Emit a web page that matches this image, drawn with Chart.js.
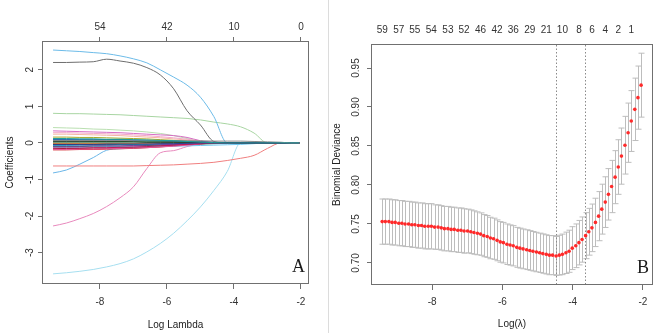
<!DOCTYPE html>
<html>
<head>
<meta charset="utf-8">
<title>LASSO coefficient paths and cross-validation</title>
<script src="https://cdn.jsdelivr.net/npm/chart.js@4.4.1/dist/chart.umd.min.js"></script>
<style>
  html, body { margin: 0; padding: 0; background: #fff; }
  #wrap { position: relative; width: 660px; height: 333px; overflow: hidden; }
  #panelA { position: absolute; left: 0; top: 0; }
  #panelB { position: absolute; left: 330px; top: 0; }
  #sep { position: absolute; left: 328px; top: 0; width: 1px; height: 333px; background: #dcdcdc; }
</style>
</head>
<body>
<div id="wrap">
  <canvas id="panelA" width="330" height="333"></canvas>
  <div id="sep"></div>
  <canvas id="panelB" width="330" height="333"></canvas>
</div>
<script>
// ---------- Panel A: coefficient paths ----------
const xA = [-9.4, -9.0, -8.6, -8.2, -7.8, -7.4, -7.0, -6.6, -6.2, -5.8, -5.4, -5.0, -4.6, -4.2, -3.8, -3.4, -3.0, -2.6, -2.3, -2.05];

// small coefficients bunched round zero
const coefK1  = [0.12, 0.12, 0.11, 0.11, 0.10, 0.10, 0.09, 0.08, 0.07, 0.06, 0.04, 0.02, 0.01, 0, 0, 0, 0, 0, 0, 0];
const coefK2  = [0.07, 0.07, 0.07, 0.07, 0.07, 0.07, 0.06, 0.06, 0.06, 0.06, 0.06, 0.06, 0.05, 0.05, 0.05, 0.04, 0.03, 0.02, 0, 0];
const coefK3  = [-0.04, -0.04, -0.04, -0.04, -0.03, -0.03, -0.03, -0.03, -0.02, -0.02, -0.01, 0, 0, 0, 0, 0, 0, 0, 0, 0];
const coefK4  = [0.03, 0.03, 0.03, 0.03, 0.03, 0.03, 0.03, 0.02, 0.02, 0.02, 0.02, 0.01, 0.01, 0.01, 0, 0, 0, 0, 0, 0];
const coefK5  = [-0.14, -0.14, -0.14, -0.13, -0.13, -0.12, -0.11, -0.10, -0.08, -0.06, -0.04, -0.02, 0, 0, 0, 0, 0, 0, 0, 0];
const coefK6  = [0.05, 0.05, 0.05, 0.04, 0.04, 0.04, 0.04, 0.03, 0.03, 0.02, 0.01, 0, 0, 0, 0, 0, 0, 0, 0, 0];
const coefK7  = [-0.09, -0.09, -0.09, -0.08, -0.08, -0.08, -0.07, -0.06, -0.05, -0.04, -0.03, -0.01, 0, 0, 0, 0, 0, 0, 0, 0];
const coefK8  = [0.09, 0.09, 0.09, 0.08, 0.08, 0.08, 0.07, 0.07, 0.06, 0.05, 0.04, 0.02, 0.01, 0, 0, 0, 0, 0, 0, 0];
const coefK9  = [-0.07, -0.07, -0.06, -0.06, -0.06, -0.05, -0.05, -0.04, -0.04, -0.03, -0.02, -0.01, 0, 0, 0, 0, 0, 0, 0, 0];
const coefK10 = [-0.18, -0.18, -0.17, -0.17, -0.16, -0.15, -0.14, -0.13, -0.11, -0.09, -0.06, -0.03, 0, 0, 0, 0, 0, 0, 0, 0];
const coefK11 = [0.16, 0.16, 0.15, 0.15, 0.14, 0.13, 0.12, 0.11, 0.09, 0.07, 0.05, 0.02, 0, 0, 0, 0, 0, 0, 0, 0];
const coefK12 = [-0.02, -0.02, -0.02, -0.02, -0.02, -0.02, -0.02, -0.02, -0.01, -0.01, 0, 0, 0, 0, 0, 0, 0, 0, 0, 0];
const coefK13 = [-0.12, -0.12, -0.12, -0.11, -0.11, -0.11, -0.10, -0.10, -0.09, -0.09, -0.08, -0.07, -0.06, -0.05, -0.04, -0.02, 0, 0, 0, 0];
const coefK14 = [0.01, 0.01, 0.01, 0.01, 0.01, 0.01, 0.01, 0.01, 0.01, 0.01, 0.01, 0.01, 0.01, 0.01, 0.01, 0.01, 0.01, 0.005, 0.003, 0];
const coefK15 = [-0.16, -0.15, -0.15, -0.14, -0.14, -0.13, -0.12, -0.10, -0.08, -0.06, -0.03, -0.01, 0, 0, 0, 0, 0, 0, 0, 0];
const coefK16 = [0.10, 0.10, 0.10, 0.10, 0.09, 0.09, 0.08, 0.07, 0.06, 0.05, 0.03, 0.02, 0, 0, 0, 0, 0, 0, 0, 0];
const coefK17 = [-0.05, -0.05, -0.05, -0.05, -0.05, -0.04, -0.04, -0.04, -0.03, -0.03, -0.02, -0.02, -0.01, -0.01, 0, 0, 0, 0, 0, 0];
const coefK18 = [0.06, 0.06, 0.06, 0.06, 0.05, 0.05, 0.05, 0.05, 0.04, 0.04, 0.03, 0.03, 0.02, 0.01, 0, 0, 0, 0, 0, 0];
const coefK19 = [-0.10, -0.10, -0.10, -0.09, -0.09, -0.09, -0.08, -0.07, -0.06, -0.05, -0.04, -0.03, -0.02, -0.01, 0, 0, 0, 0, 0, 0];
const coefK20 = [0.02, 0.02, 0.02, 0.02, 0.02, 0.02, 0.02, 0.02, 0.02, 0.01, 0.01, 0.01, 0.01, 0.01, 0.01, 0, 0, 0, 0, 0];
const coefK21 = [-0.01, -0.01, -0.01, -0.01, -0.01, -0.01, -0.01, -0.01, -0.01, -0.01, -0.01, -0.01, -0.01, 0, 0, 0, 0, 0, 0, 0];
const coefK22 = [0.28, 0.28, 0.27, 0.26, 0.25, 0.24, 0.22, 0.20, 0.17, 0.14, 0.10, 0.05, 0.01, 0, 0, 0, 0, 0, 0, 0];
const coefK23 = [-0.03, -0.03, -0.03, -0.03, -0.03, -0.03, -0.03, -0.02, -0.02, -0.02, -0.02, -0.01, -0.01, 0, 0, 0, 0, 0, 0, 0];
const coefK24 = [-0.19, -0.19, -0.18, -0.18, -0.17, -0.16, -0.15, -0.13, -0.11, -0.08, -0.05, -0.02, 0, 0, 0, 0, 0, 0, 0, 0];

// larger coefficients
const coefMagenta = [0.33, 0.32, 0.31, 0.30, 0.29, 0.28, 0.26, 0.24, 0.22, 0.20, 0.15, 0.06, 0, 0, 0, 0, 0, 0, 0, 0];
const coefGreen2  = [0.42, 0.41, 0.40, 0.38, 0.37, 0.35, 0.33, 0.30, 0.26, 0.20, 0.12, 0.05, 0, 0, 0, 0, 0, 0, 0, 0];
const coefSalmon  = [0.24, 0.24, 0.23, 0.22, 0.21, 0.20, 0.18, 0.16, 0.14, 0.11, 0.08, 0.04, 0.01, 0, 0, 0, 0, 0, 0, 0];
const coefBlueTop = [2.54, 2.52, 2.50, 2.47, 2.44, 2.38, 2.30, 2.19, 2.00, 1.80, 1.58, 1.25, 0.72, 0, 0, 0, 0, 0, 0, 0];
const coefGray    = [2.20, 2.20, 2.21, 2.22, 2.29, 2.24, 2.18, 2.06, 1.86, 1.48, 0.88, 0.49, 0.04, 0, 0, 0, 0, 0, 0, 0];
const coefGreen   = [0.81, 0.80, 0.80, 0.79, 0.78, 0.77, 0.75, 0.73, 0.71, 0.69, 0.67, 0.63, 0.57, 0.52, 0.44, 0.27, 0, 0, 0, 0];
const coefRed     = [-0.63, -0.63, -0.63, -0.63, -0.63, -0.63, -0.63, -0.62, -0.61, -0.60, -0.58, -0.56, -0.53, -0.48, -0.42, -0.34, -0.15, 0, 0, 0];
const coefBlueLow = [-0.82, -0.74, -0.58, -0.40, -0.20, -0.16, -0.14, -0.12, -0.10, -0.07, -0.04, -0.02, 0, 0, 0, 0, 0, 0, 0, 0];
const coefPink    = [-2.27, -2.19, -2.07, -1.93, -1.74, -1.50, -1.20, -0.70, -0.27, -0.21, -0.10, -0.03, 0, 0, 0, 0, 0, 0, 0, 0];
const coefCyan    = [-3.58, -3.55, -3.51, -3.46, -3.39, -3.30, -3.17, -2.98, -2.75, -2.47, -2.13, -1.75, -1.30, -0.78, 0, 0, 0, 0, 0, 0];

const topTicksA  = [-8, -6, -4, -2];
const topLabelsA = ['54', '42', '10', '0'];
const xTicks = [-8, -6, -4, -2];
const yTicksA = [-3, -2, -1, 0, 1, 2];

// ---------- Panel B: cross-validation curve ----------
const logLambda = [-9.42, -9.33, -9.23, -9.14, -9.05, -8.95, -8.86, -8.77, -8.67, -8.58,
  -8.49, -8.39, -8.30, -8.21, -8.11, -8.02, -7.93, -7.83, -7.74, -7.65,
  -7.55, -7.46, -7.37, -7.27, -7.18, -7.09, -6.99, -6.90, -6.81, -6.71,
  -6.62, -6.53, -6.43, -6.34, -6.25, -6.15, -6.06, -5.97, -5.87, -5.78,
  -5.69, -5.59, -5.50, -5.41, -5.31, -5.22, -5.13, -5.03, -4.94, -4.85,
  -4.75, -4.66, -4.57, -4.47, -4.38, -4.29, -4.19, -4.10, -4.01, -3.91,
  -3.82, -3.73, -3.63, -3.54, -3.45, -3.35, -3.26, -3.17, -3.07, -2.98,
  -2.89, -2.79, -2.70, -2.61, -2.51, -2.42, -2.33, -2.23, -2.14, -2.05];
const cvMean = [0.753, 0.753, 0.753, 0.752, 0.752, 0.751, 0.751, 0.750, 0.750, 0.749,
  0.749, 0.748, 0.748, 0.747, 0.747, 0.747, 0.746, 0.746, 0.745, 0.744,
  0.744, 0.743, 0.743, 0.742, 0.742, 0.741, 0.741, 0.740, 0.739, 0.738,
  0.737, 0.735, 0.734, 0.732, 0.731, 0.729, 0.727, 0.726, 0.724, 0.723,
  0.722, 0.720, 0.719, 0.718, 0.717, 0.716, 0.715, 0.714, 0.713, 0.712,
  0.711, 0.710, 0.710, 0.709, 0.710, 0.711, 0.713, 0.715, 0.719, 0.722,
  0.726, 0.730, 0.735, 0.740, 0.745, 0.752, 0.760, 0.769, 0.778, 0.788,
  0.798, 0.810, 0.823, 0.837, 0.851, 0.867, 0.882, 0.897, 0.912, 0.928];
const cvSd = [0.029, 0.029, 0.029, 0.029, 0.029, 0.029, 0.029, 0.029, 0.029, 0.029,
  0.029, 0.029, 0.029, 0.029, 0.029, 0.029, 0.0285, 0.0285, 0.0285, 0.0285,
  0.0285, 0.0285, 0.0285, 0.0285, 0.0285, 0.0285, 0.028, 0.028, 0.0278, 0.0275,
  0.0272, 0.027, 0.0268, 0.0266, 0.0264, 0.0262, 0.026, 0.026, 0.026, 0.0258,
  0.0258, 0.0256, 0.0256, 0.0255, 0.0255, 0.0254, 0.0253, 0.0253, 0.0252, 0.0252,
  0.0251, 0.0251, 0.025, 0.025, 0.0255, 0.026, 0.0265, 0.027, 0.0275, 0.028,
  0.0285, 0.029, 0.0295, 0.030, 0.0305, 0.031, 0.0315, 0.032, 0.0325, 0.033,
  0.0335, 0.034, 0.035, 0.036, 0.037, 0.038, 0.039, 0.040, 0.0405, 0.041];
const cvLambdaLines = [-4.47, -3.65];   // lambda.min and lambda.1se
const topTicksB  = [-9.42, -8.95, -8.49, -8.02, -7.55, -7.09, -6.62, -6.15, -5.69, -5.22, -4.75, -4.29, -3.82, -3.45, -3.07, -2.70, -2.33];
const topLabelsB = ['59', '57', '55', '54', '53', '52', '46', '42', '36', '29', '21', '10', '8', '6', '4', '2', '1'];
const yTicksB = [0.70, 0.75, 0.80, 0.85, 0.90, 0.95];

// ---------- styling ----------
const coefPaths = [coefK1, coefK2, coefK3, coefK4, coefK5, coefK6, coefK7, coefK8, coefK9, coefK10,
  coefK11, coefK12, coefK13, coefK14, coefK15, coefK16, coefK17, coefK18, coefK19, coefK20,
  coefK21, coefK22, coefK23, coefK24,
  coefMagenta, coefGreen2, coefSalmon, coefBlueTop, coefGray, coefGreen, coefRed, coefBlueLow, coefPink, coefCyan];
const pathColors = ['#1f9e99', '#8a8a8a', '#2c3e8c', '#222222', '#c2185b', '#3cb44b', '#7b3fa0', '#1f5fbf', '#17becf', '#e4579a',
  '#a7a82a', '#f08c3a', '#6ec6f0', '#a8dca8', '#8b1a1a', '#0d7a7a', '#111111', '#1a237e', '#1b5e20', '#00897b',
  '#333333', '#f2a7c9', '#2b8cdb', '#d32f2f',
  '#d66cc4', '#b9dfb0', '#f4b6a0', '#6cbbe8', '#6e6e6e', '#a8d5a2', '#f07f7f', '#6bb6e8', '#e889bd', '#a6dff0'];

const SANS = '"Liberation Sans", Arial, sans-serif';
const tickFont = { family: SANS, size: 10 };
const titleFont = { family: SANS, size: 10 };
const axisGray = '#707070';

// box round the plot, panel letter and R-style rotated y labels
const plotFrame = {
  id: 'plotFrame',
  afterDraw(chart, args, opts) {
    const { ctx, chartArea: a } = chart;
    ctx.save();
    ctx.strokeStyle = axisGray;
    ctx.lineWidth = 1;
    ctx.strokeRect(Math.round(a.left) - 0.5, Math.round(a.top) - 0.5, Math.round(a.right - a.left) + 1, Math.round(a.bottom - a.top) + 1);

    ctx.fillStyle = '#1a1a1a';
    ctx.font = '18px "Liberation Serif", "Times New Roman", serif';
    ctx.textAlign = 'right';
    ctx.textBaseline = 'alphabetic';
    ctx.fillText(opts.letter, a.right - 3, a.bottom - 11);

    const y = chart.scales.y;
    ctx.fillStyle = '#333';
    ctx.font = '10px ' + SANS;
    ctx.textAlign = 'center';
    ctx.textBaseline = 'middle';
    y.ticks.forEach(t => {
      ctx.save();
      ctx.translate(a.left - opts.labelOffset, y.getPixelForValue(t.value));
      ctx.rotate(-Math.PI / 2);
      ctx.fillText(t.value.toFixed(opts.digits), 0, 0);
      ctx.restore();
    });
    ctx.restore();
  }
};

// error bars and the two dotted lambda lines
const cvExtras = {
  id: 'cvExtras',
  beforeDatasetsDraw(chart) {
    const { ctx, chartArea: a, scales: { x, y } } = chart;
    ctx.save();
    ctx.strokeStyle = '#bdbdbd';
    ctx.lineWidth = 1;
    logLambda.forEach((lx, i) => {
      const px = Math.round(x.getPixelForValue(lx)) + 0.5;
      const hi = y.getPixelForValue(cvMean[i] + cvSd[i]);
      const lo = y.getPixelForValue(cvMean[i] - cvSd[i]);
      ctx.beginPath();
      ctx.moveTo(px, hi); ctx.lineTo(px, lo);
      ctx.moveTo(px - 3, hi); ctx.lineTo(px + 3, hi);
      ctx.moveTo(px - 3, lo); ctx.lineTo(px + 3, lo);
      ctx.stroke();
    });
    ctx.strokeStyle = '#8a8a8a';
    ctx.setLineDash([1.5, 2]);
    cvLambdaLines.forEach(lx => {
      const px = Math.round(x.getPixelForValue(lx)) + 0.5;
      ctx.beginPath();
      ctx.moveTo(px, a.top); ctx.lineTo(px, a.bottom);
      ctx.stroke();
    });
    ctx.restore();
  }
};

function fixedTicks(list) {
  return scale => { scale.ticks = list.map(v => ({ value: v })); };
}

function yAxis(min, max, list, width, title, titlePad) {
  return {
    type: 'linear', position: 'left', min, max,
    afterBuildTicks: fixedTicks(list),
    afterFit: s => { s.width = width; },
    grid: { drawOnChartArea: false, drawTicks: true, tickLength: 5, color: axisGray },
    border: { display: false },
    ticks: { display: false },
    title: { display: true, text: title, font: titleFont, color: '#222', padding: { top: titlePad, bottom: 0 } }
  };
}

function xBottom(min, max, height, title, tickPad, titlePad) {
  return {
    type: 'linear', position: 'bottom', min, max,
    afterBuildTicks: fixedTicks(xTicks),
    afterFit: s => { s.height = height; },
    grid: { drawOnChartArea: false, drawTicks: true, tickLength: 6, color: axisGray },
    border: { display: false },
    ticks: { font: tickFont, color: '#333', padding: tickPad, maxRotation: 0, autoSkip: false },
    title: { display: true, text: title, font: titleFont, color: '#222', padding: { top: 0, bottom: titlePad } }
  };
}

function xTop(min, max, height, list, labels, withTicks, tickPad) {
  return {
    type: 'linear', position: 'top', min, max,
    afterBuildTicks: fixedTicks(list),
    afterFit: s => { s.height = height; },
    grid: { drawOnChartArea: false, drawTicks: withTicks, tickLength: 5, color: axisGray },
    border: { display: false },
    ticks: { font: tickFont, color: '#333', padding: tickPad, maxRotation: 0, minRotation: 0, autoSkip: false,
             callback: (v, i) => labels[i] }
  };
}

new Chart(document.getElementById('panelA'), {
  type: 'line',
  data: {
    datasets: coefPaths.map((vals, k) => ({
      data: xA.map((x, i) => ({ x, y: vals[i] })),
      borderColor: pathColors[k],
      borderWidth: 1,
      pointRadius: 0,
      cubicInterpolationMode: 'monotone',
      fill: false
    }))
  },
  options: {
    responsive: false, animation: false, devicePixelRatio: 1,
    layout: { padding: { left: 0, right: 22, top: 0, bottom: 0 } },
    plugins: { legend: { display: false }, tooltip: { enabled: false },
               plotFrame: { letter: 'A', labelOffset: 13, digits: 0 } },
    scales: {
      x: xBottom(-9.70, -1.79, 50, 'Log Lambda', 7, 2),
      xTop: xTop(-9.70, -1.79, 42, topTicksA, topLabelsA, true, 4),
      y: yAxis(-3.83, 2.76, yTicksA, 43, 'Coefficients', 4)
    }
  },
  plugins: [plotFrame]
});

new Chart(document.getElementById('panelB'), {
  type: 'scatter',
  data: {
    datasets: [{
      data: logLambda.map((x, i) => ({ x, y: cvMean[i] })),
      pointRadius: 1.8,
      pointBackgroundColor: '#ff2a2a',
      pointBorderWidth: 0,
      showLine: false
    }]
  },
  options: {
    responsive: false, animation: false, devicePixelRatio: 1,
    layout: { padding: { left: 0, right: 8, top: 0, bottom: 0 } },
    plugins: { legend: { display: false }, tooltip: { enabled: false },
               plotFrame: { letter: 'B', labelOffset: 16, digits: 2 } },
    scales: {
      x: xBottom(-9.71, -1.74, 49, 'Log(\u03bb)', 6, 3),
      xTop: xTop(-9.71, -1.74, 45, topTicksB, topLabelsB, false, 9),
      y: yAxis(0.673, 0.9795, yTicksB, 42, 'Binomial Deviance', 1)
    }
  },
  plugins: [cvExtras, plotFrame]
});
</script>
</body>
</html>
